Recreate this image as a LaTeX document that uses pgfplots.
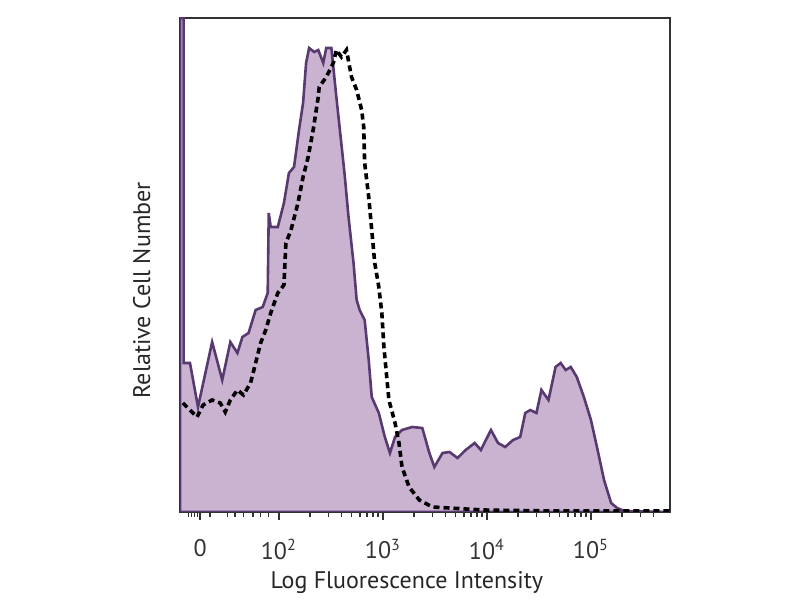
\documentclass[border=0pt]{standalone}
\usepackage{fontspec}
\setmainfont{PT Sans}
\usepackage{pgfplots}
\pgfplotsset{compat=1.18}
\definecolor{histfill}{RGB}{201,179,209}
\definecolor{histline}{RGB}{88,58,112}
\definecolor{axisgray}{RGB}{50,50,50}
\begin{document}
\begin{tikzpicture}
\useasboundingbox (0,0) rectangle (400pt,300pt);
\begin{axis}[
  at={(90pt,44pt)}, anchor=south west,
  scale only axis, width=245pt, height=247pt,
  xmin=1.05, xmax=5.76, ymin=0, ymax=494,
  axis line style={axisgray, line width=1pt},
  ytick=\empty,
  xtick={1.243,2,3,4,5},
  xticklabels={0,{10\textsuperscript{2}},{10\textsuperscript{3}},{10\textsuperscript{4}},{10\textsuperscript{5}}},
  minor xtick={1.13,1.16,1.19,1.22,1.34,1.505,1.58,1.66,1.75,1.825,1.90,
    2.301,2.477,2.602,2.699,2.778,2.845,2.903,2.954,
    3.301,3.477,3.602,3.699,3.778,3.845,3.903,3.954,
    4.301,4.477,4.602,4.699,4.778,4.845,4.903,4.954,
    5.301,5.477,5.602},
  tick align=outside,
  xtick pos=bottom,
  major tick length=4pt, minor tick length=2.5pt,
  every tick/.style={axisgray, line width=0.8pt},
  /pgf/number format/assume math mode=true,
  tick label style={font=\fontsize{12}{14}\selectfont, text=black!80},
  xticklabel style={yshift=-6pt},
  label style={font=\fontsize{12}{14}\selectfont, text=black!85},
  xlabel={Log Fluorescence Intensity},
  ylabel={Relative Cell Number},
  xlabel style={at={(axis description cs:0.463,-0.142)}, anchor=center},
  ylabel style={at={(axis description cs:-0.078,0.449)}, anchor=center, rotate=0},
  clip=true,
]
% filled stained histogram
\addplot[draw=histline, line width=1.3pt, fill=histfill] coordinates {
(1.05,0) (1.05,494) (1.085,494) (1.085,149) (1.146,149) (1.223,105) (1.359,170) (1.456,132)
(1.534,170) (1.602,159) (1.650,175) (1.709,179) (1.777,202) (1.845,205) (1.893,219)
(1.903,299) (1.922,285) (1.990,285) (2.049,309) (2.097,339) (2.146,345) (2.194,382)
(2.233,409) (2.262,449) (2.291,464) (2.340,460) (2.379,462) (2.427,449) (2.456,464)
(2.505,464) (2.553,415) (2.631,339) (2.670,295) (2.718,249) (2.748,212) (2.777,202)
(2.825,192) (2.864,152) (2.893,115) (2.961,99) (3.019,75) (3.068,59) (3.117,75)
(3.184,82) (3.282,85) (3.379,84) (3.447,59) (3.495,45) (3.573,59) (3.641,60)
(3.718,54) (3.796,62) (3.883,69) (3.942,62) (4.039,82) (4.107,69) (4.175,65)
(4.252,72) (4.320,75) (4.369,99) (4.417,102) (4.476,99) (4.524,122) (4.592,112)
(4.660,145) (4.709,149) (4.757,142) (4.806,145) (4.864,135) (4.932,115) (5.000,92)
(5.058,65) (5.126,32) (5.194,9) (5.252,4) (5.320,1) (5.76,0)
} \closedcycle;
% control (dashed)
\addplot[black, line width=1.8pt, dash pattern=on 3pt off 2pt] coordinates {
(1.078,109) (1.146,102) (1.214,95) (1.272,107) (1.359,112) (1.437,109) (1.485,100)
(1.534,112) (1.602,122) (1.660,117) (1.728,129) (1.777,149) (1.825,169) (1.874,182)
(1.922,199) (1.990,219) (2.049,227) (2.068,269) (2.117,282) (2.184,309) (2.233,335)
(2.282,355) (2.330,382) (2.379,415) (2.388,425) (2.456,435) (2.524,449) (2.553,462)
(2.602,455) (2.650,462) (2.699,435) (2.748,422) (2.796,402) (2.816,385) (2.825,349)
(2.864,315) (2.893,282) (2.922,249) (2.961,225) (2.990,199) (3.010,165) (3.058,112)
(3.117,89) (3.155,69) (3.184,45) (3.252,25) (3.350,12) (3.476,5) (3.961,2)
(4.640,1) (5.76,1)
};
\end{axis}
\end{tikzpicture}
\end{document}
